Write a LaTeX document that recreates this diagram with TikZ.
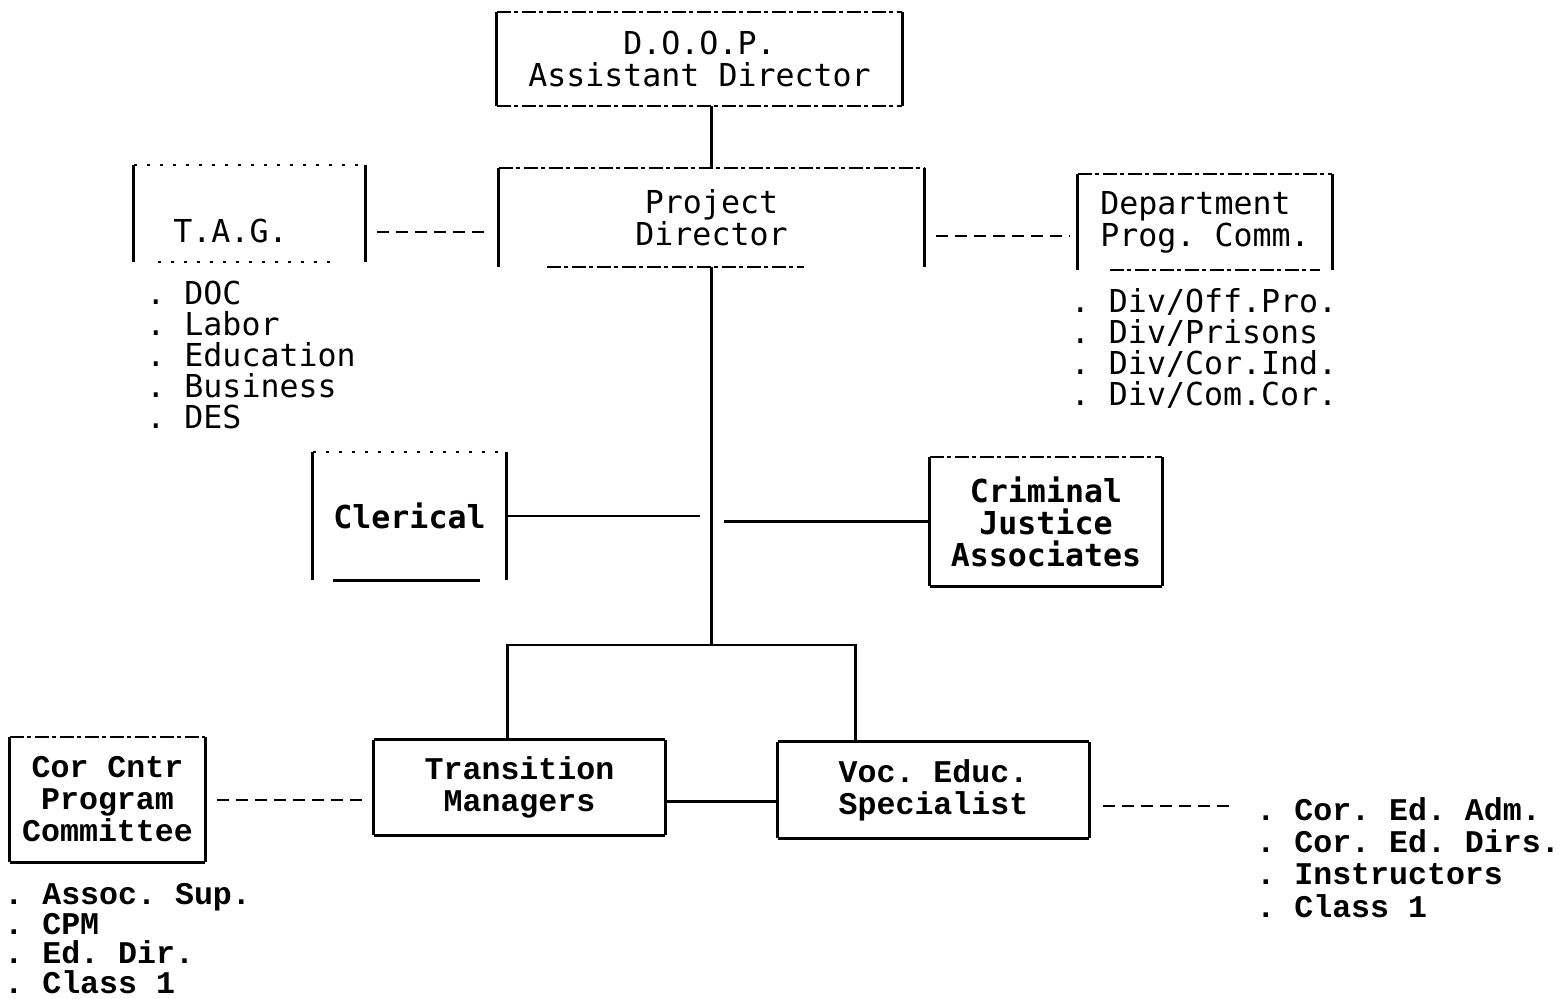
\documentclass[tikz,border=0pt]{standalone}
\usepackage{fontspec}
\newfontfamily\gothic{DejaVu Sans Mono}
\newfontfamily\typer{Liberation Mono}
\frenchspacing

\begin{document}
\begin{tikzpicture}[x=0.5pt, y=-0.5pt,
	every node/.style = {font=\gothic\fontsize{15.8}{16}\selectfont, inner sep=0pt},
	box/.style = {align=center},
	heavy/.style = {font=\gothic\bfseries\fontsize{15.8}{16}\selectfont},
	typed/.style = {font=\typer\bfseries\fontsize{15.8}{16}\selectfont},
	item/.style = {anchor=west, text height=11pt, text depth=0pt},
	side/.style = {line width=1.3pt},
	rough/.style = {line width=1pt, dash pattern=on 7pt off 1.5pt on 2pt off 2pt},
	sparse/.style = {line width=1pt, dash pattern=on 1.5pt off 5pt},
	link/.style = {line width=1.2pt},
	dashlink/.style = {line width=1pt, dash pattern=on 6pt off 3.5pt}]
	\useasboundingbox (0,0) rectangle (1564,998);

	% boxes
	\node[box, minimum width=202.5pt, minimum height=47pt] (doop) at (699.5,59) {D.O.O.P.\\Assistant Director};
	\node[box, minimum width=212.5pt, minimum height=49.5pt] (pd) at (711.5,217.5) {Project\\Director};
	\node[box, minimum width=115.5pt, minimum height=48.5pt, label={[xshift=-9.5pt,yshift=-8.5pt]center:T.A.G.}] (tag) at (249.5,213.5) {};
	\node[box, align=left, minimum width=127pt, minimum height=48pt] (dept) at (1205,222) {Department\\Prog. Comm.};
	\node[box, heavy, minimum width=96.5pt, minimum height=64pt] (cl) at (409.5,516) {Clerical};
	\node[box, heavy, minimum width=116pt, minimum height=64.5pt] (cja) at (1046,521.5) {Criminal\\Justice\\Associates};
	\node[box, typed, minimum width=145.5pt, minimum height=47.5pt] (tm) at (519.5,787.5) {Transition\\Managers};
	\node[box, typed, minimum width=155.5pt, minimum height=48pt] (ves) at (933.5,790) {Voc. Educ.\\Specialist};
	\node[box, typed, minimum width=97.5pt, minimum height=62.5pt] (ccc) at (107.5,799.5) {Cor Cntr\\Program\\Committee};

	% box edges
	\foreach \b in {doop,pd,tag,dept,cl,cja,tm,ves,ccc}
		\draw[side] (\b.north west) -- (\b.south west) (\b.north east) -- (\b.south east);
	\foreach \b in {doop,pd,dept,cja,ccc}
		\draw[rough] (\b.north west) -- (\b.north east);
	\foreach \b in {tag,cl}
		\draw[sparse] (\b.north west) -- (\b.north east);
	\foreach \b in {tm,ves}
		\draw[side] (\b.north west) -- (\b.north east);
	\foreach \b in {cja,ccc,tm,ves}
		\draw[side] (\b.south west) -- (\b.south east);
	\draw[rough] (doop.south west) -- (doop.south east);
	\draw[rough] ([xshift=16pt]dept.south west) -- ([xshift=-6pt]dept.south east);
	\draw[sparse] ([xshift=12pt]tag.south west) -- ([xshift=-16pt]tag.south east);
	\draw[rough] ([xshift=24pt]pd.south west) -- ([xshift=-60pt]pd.south east);
	\draw[side] ([xshift=10pt]cl.south west) -- ([xshift=-13pt]cl.south east);

	% lists
	\foreach \t [count=\i] in {DOC, Labor, Education, Business, DES}
		\node[item] (tagitem\i) at (146,262+31*\i) {. \t};
	\foreach \t [count=\i] in {Div/Off.Pro., Div/Prisons, Div/Cor.Ind., Div/Com.Cor.}
		\node[item] (deptitem\i) at (1070.5,270+31*\i) {. \t};
	\foreach \t [count=\i] in {Assoc. Sup., CPM, Ed. Dir., Class 1}
		\node[item, typed] (cccitem\i) at (4,864+29.5*\i) {. \t};
	\foreach \t [count=\i] in {Cor. Ed. Adm., Cor. Ed. Dirs., Instructors, Class 1}
		\node[item, typed] (veditem\i) at (1256,777+32.3*\i) {. \t};

	% connectors
	\coordinate (split) at (711.5,645);
	\coordinate (tagline) at ([yshift=-9pt]tag.east);
	\coordinate (pdline) at ([yshift=-9pt]pd.east);
	\coordinate (tmline) at ([yshift=-7pt]tm.east);
	\coordinate (vesline) at ([yshift=-8pt]ves.east);
	\coordinate (tmtop) at ([xshift=-6pt]tm.north);
	\coordinate (vestop) at ([xshift=-39pt]ves.north);

	\draw[link] (pd.north) -- (pd.north |- doop.south);
	\draw[dashlink, shorten <=6pt, shorten >=4pt] (tagline) -- (tagline -| pd.west);
	\draw[dashlink, shorten <=6pt, shorten >=4pt] (pdline) -- (pdline -| dept.west);
	\draw[link] (pd.south) -- (split);
	\draw[link, shorten >=6pt] (cl.east) -- (cl.east -| split);
	\draw[link, shorten <=6pt] (cja.west -| split) -- (cja.west);
	\draw[link] (tmtop) -- (tmtop |- split) -- (vestop |- split) -- (vestop);
	\draw[link] (tmline) -- (tmline -| ves.west);
	\draw[dashlink, shorten <=6pt, shorten >=4.5pt] (ccc.east) -- (ccc.east -| tm.west);
	\draw[dashlink, shorten <=7pt, shorten >=11pt] (vesline) -- (vesline -| veditem1.west);
\end{tikzpicture}
\end{document}
